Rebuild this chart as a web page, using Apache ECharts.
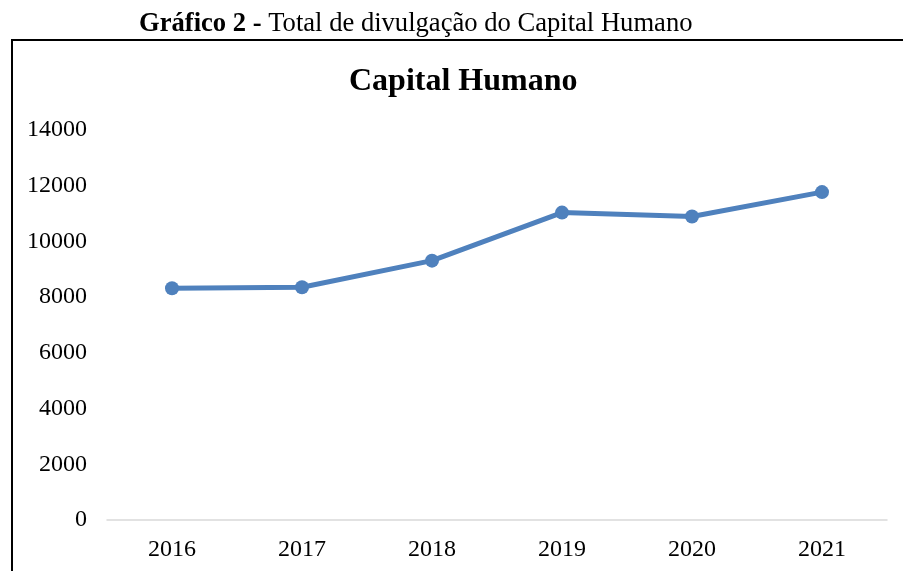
<!DOCTYPE html>
<html>
<head>
<meta charset="utf-8">
<script src="https://cdn.jsdelivr.net/npm/echarts@6/dist/echarts.min.js"></script>
<style>
html,body{margin:0;padding:0;background:#fff;}
#chart{width:903px;height:571px;}
</style>
</head>
<body>
<div id="chart"></div>
<script>
// Annual totals of human capital disclosure
const years = ['2016', '2017', '2018', '2019', '2020', '2021'];
const totals = [8320, 8355, 9310, 11035, 10895, 11770];
const yTicks = [0, 2000, 4000, 6000, 8000, 10000, 12000, 14000];

const serif = '"Liberation Serif", "Times New Roman", serif';
const chart = echarts.init(document.getElementById('chart'));

chart.setOption({
  backgroundColor: '#ffffff',
  animation: false,
  title: [
    {
      text: '{b|Gráfico 2 -} Total de divulgação do Capital Humano',
      left: 134,
      top: 6,
      textStyle: {
        fontFamily: serif,
        fontSize: 26.6,
        fontWeight: 'normal',
        color: '#000',
        rich: {
          b: { fontFamily: serif, fontSize: 26.6, fontWeight: 'bold', color: '#000' }
        }
      }
    },
    {
      text: 'Capital Humano',
      left: 344,
      top: 61,
      textStyle: { fontFamily: serif, fontSize: 32, fontWeight: 'bold', color: '#000' }
    }
  ],
  graphic: [
    {
      type: 'rect',
      shape: { x: 12, y: 40, width: 1000, height: 600 },
      style: { fill: 'none', stroke: '#000', lineWidth: 2 },
      silent: true
    }
  ],
  grid: { left: 107, right: 16, top: 130, bottom: 51 },
  xAxis: {
    type: 'category',
    data: years,
    boundaryGap: true,
    axisLine: { show: true, lineStyle: { color: '#d9d9d9', width: 1.5 } },
    axisTick: { show: false },
    axisLabel: { fontFamily: serif, fontSize: 24, color: '#000', margin: 18 }
  },
  yAxis: {
    type: 'value',
    min: yTicks[0],
    max: yTicks[yTicks.length - 1],
    interval: yTicks[1] - yTicks[0],
    axisLine: { show: false },
    axisTick: { show: false },
    splitLine: { show: false },
    axisLabel: {
      fontFamily: serif,
      fontSize: 24,
      color: '#000',
      margin: 20,
      formatter: (v) => String(v)
    }
  },
  series: [
    {
      type: 'line',
      data: totals,
      symbol: 'circle',
      symbolSize: 14,
      lineStyle: { color: '#4f81bd', width: 5 },
      itemStyle: { color: '#4f81bd' }
    }
  ]
});
</script>
</body>
</html>
